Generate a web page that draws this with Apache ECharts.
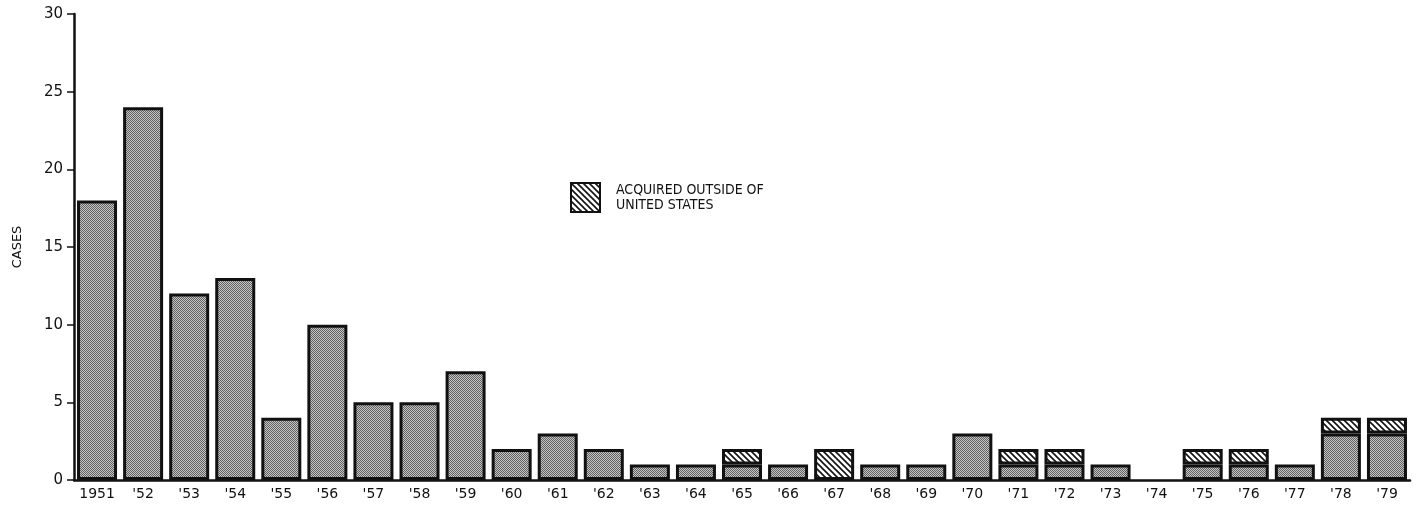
<!DOCTYPE html>
<html>
<head>
<meta charset="utf-8">
<script src="https://cdn.jsdelivr.net/npm/echarts@6/dist/echarts.min.js"></script>
<style>
  html, body { margin: 0; padding: 0; background: #fff; }
  #chart { width: 1416px; height: 509px; }
</style>
</head>
<body>
<div id="chart"></div>
<script>
// years on the x axis
const years = ['1951', "'52", "'53", "'54", "'55", "'56", "'57", "'58", "'59", "'60",
  "'61", "'62", "'63", "'64", "'65", "'66", "'67", "'68", "'69", "'70",
  "'71", "'72", "'73", "'74", "'75", "'76", "'77", "'78", "'79"]
// cases acquired in the US (stippled)
const domestic = [18, 24, 12, 13, 4, 10, 5, 5, 7, 2,
  3, 2, 1, 1, 1, 1, null, 1, 1, 3,
  1, 1, 1, null, 1, 1, 1, 3, 3]
// cases acquired outside of the US (hatched)
const imported = [null, null, null, null, null, null, null, null, null, null,
  null, null, null, null, 1, null, 2, null, null, null,
  1, 1, null, null, 1, 1, null, 1, 1]
const yTicks = { min: 0, max: 30, interval: 5 }
const importedName = 'ACQUIRED OUTSIDE OF\nUNITED STATES'

// stippled fill (fine grey dots)
function stipple() {
  const c = document.createElement('canvas')
  c.width = 2
  c.height = 2
  const g = c.getContext('2d')
  g.fillStyle = '#c6c6c6'
  g.fillRect(0, 0, 2, 2)
  g.fillStyle = '#606060'
  g.fillRect(0, 0, 1, 1)
  g.fillRect(1, 1, 1, 1)
  return c
}
// diagonal hatch fill
function hatch() {
  const c = document.createElement('canvas')
  c.width = 6
  c.height = 6
  const g = c.getContext('2d')
  g.fillStyle = '#fff'
  g.fillRect(0, 0, 6, 6)
  g.strokeStyle = '#111'
  g.lineWidth = 1.6
  for (let k = -1; k <= 1; k++) {
    g.beginPath()
    g.moveTo(k * 6 - 1, -1)
    g.lineTo(k * 6 + 7, 7)
    g.stroke()
  }
  return c
}

const font = 'DejaVu Sans'
const chart = echarts.init(document.getElementById('chart'))
chart.setOption({
  backgroundColor: '#fff',
  animation: false,
  grid: { left: 74, right: 6, top: 14, bottom: 29 },
  legend: {
    data: [importedName],
    left: 570,
    top: 182,
    padding: 0,
    icon: 'rect',
    itemWidth: 29,
    itemHeight: 29,
    textStyle: {
      fontFamily: 'DejaVu Sans Condensed, DejaVu Sans',
      fontSize: 14,
      lineHeight: 15,
      color: '#111',
      padding: [0, 0, 0, 11],
    },
  },
  xAxis: {
    type: 'category',
    data: years,
    axisLine: { lineStyle: { color: '#111', width: 2.5 } },
    axisTick: { length: 5, lineStyle: { color: '#111', width: 1.5 } },
    axisLabel: { color: '#111', fontFamily: font, fontSize: 14, margin: 7, interval: 0 },
  },
  yAxis: {
    type: 'value',
    ...yTicks,
    name: 'CASES',
    nameLocation: 'middle',
    nameRotate: 90,
    nameGap: 50,
    nameTextStyle: { color: '#111', fontFamily: font, fontSize: 13 },
    splitLine: { show: false },
    axisLine: { show: true, lineStyle: { color: '#111', width: 2.5 } },
    axisTick: { show: true, length: 7, lineStyle: { color: '#111', width: 1.5 } },
    axisLabel: { color: '#111', fontFamily: font, fontSize: 15, margin: 11 },
  },
  series: [
    {
      name: 'domestic',
      type: 'bar',
      stack: 'cases',
      barWidth: 40,
      data: domestic,
      itemStyle: { color: { image: stipple(), repeat: 'repeat' }, borderColor: '#111', borderWidth: 3 },
    },
    {
      name: importedName,
      type: 'bar',
      stack: 'cases',
      barWidth: 40,
      data: imported,
      itemStyle: { color: { image: hatch(), repeat: 'repeat' }, borderColor: '#111', borderWidth: 3 },
    },
  ],
})
</script>
</body>
</html>
